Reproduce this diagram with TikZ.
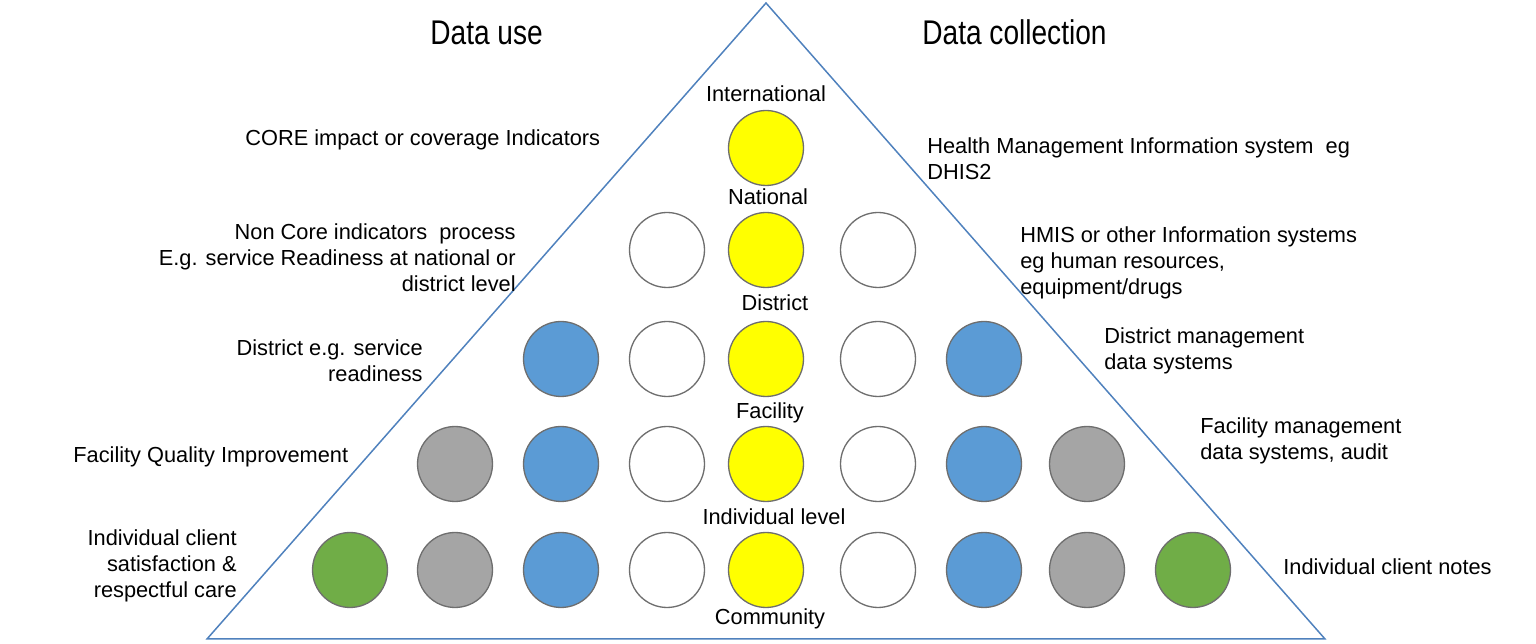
\documentclass[tikz,border=0pt]{standalone}
\usepackage{fontspec}
\setmainfont{Liberation Sans}
\newfontfamily\headfont[FakeStretch=0.82]{Liberation Sans}
\usepackage{xcolor}

\definecolor{triline}{HTML}{4F81BD}
\definecolor{dotline}{HTML}{6E6E6E}
\definecolor{cyellow}{HTML}{FFFF00}
\definecolor{cblue}{HTML}{5B9BD5}
\definecolor{cgray}{HTML}{A5A5A5}
\definecolor{cgreen}{HTML}{70AD47}

\begin{document}
\begin{tikzpicture}[x=0.02cm, y=-0.02cm,
    dot/.style={circle, draw=dotline, line width=0.75pt, minimum size=1.5cm, inner sep=0pt},
    lbl/.style={font=\fontsize{12.4}{15}\selectfont, inner sep=0pt},
    head/.style={font=\headfont\fontsize{19.5}{22}\selectfont, inner sep=0pt, anchor=base west}]
    \useasboundingbox (0,0) rectangle (1536,644);

    % Pyramid
    \draw[triline, line width=0.85pt] (766,3) -- (1325,639) -- (207,639) -- cycle;

    % Headings
    \node[head] (use) at (430,45) {Data use};
    \node[head] (coll) at (922,45) {Data collection};

    % Circles, top to bottom
    \node[dot, fill=cyellow] (r1-0) at (766,148) {};
    \foreach \x/\f/\n in {667/white/1,766/cyellow/2,878/white/3} {
        \node[dot, fill=\f] (r2-\n) at (\x,250) {};
    }
    \foreach \x/\f/\n in {561/cblue/1,667/white/2,766/cyellow/3,878/white/4,984/cblue/5} {
        \node[dot, fill=\f] (r3-\n) at (\x,359) {};
    }
    \foreach \x/\f/\n in {455/cgray/1,561/cblue/2,667/white/3,766/cyellow/4,878/white/5,984/cblue/6,1087/cgray/7} {
        \node[dot, fill=\f] (r4-\n) at (\x,464) {};
    }
    \foreach \x/\f/\n in {350/cgreen/1,455/cgray/2,561/cblue/3,667/white/4,766/cyellow/5,878/white/6,984/cblue/7,1087/cgray/8,1193/cgreen/9} {
        \node[dot, fill=\f] (r5-\n) at (\x,570) {};
    }

    % Levels
    \node[lbl, anchor=base] (lv-int) at (766,102) {International};
    \node[lbl, anchor=base] (lv-nat) at (768,205) {National};
    \node[lbl, anchor=base] (lv-dis) at (775,311) {District};
    \node[lbl, anchor=base] (lv-fac) at (770,419) {Facility};
    \node[lbl, anchor=base] (lv-ind) at (774,525) {Individual level};
    \node[lbl, anchor=base] (lv-com) at (770,625) {Community};

    % Data use (base = last line)
    \node[lbl, anchor=base west] (u-core) at (245,146) {CORE impact or coverage Indicators};
    \node[lbl, anchor=base east, align=right] (u-nonc) at (516,292) {Non Core indicators\ \ process\\E.g. service Readiness at national or\\district level};
    \node[lbl, anchor=base east, align=right] (u-dis) at (423,382) {District e.g. service\\readiness};
    \node[lbl, anchor=base west] (u-fac) at (73,463) {Facility Quality Improvement};
    \node[lbl, anchor=base east, align=right] (u-ind) at (237,598) {Individual client\\satisfaction \&\\respectful care};

    % Data collection
    \node[lbl, anchor=base west, align=left] (c-hmis) at (927,180) {Health Management Information system\ \ eg\\DHIS2};
    \node[lbl, anchor=base west, align=left] (c-oth) at (1020,295) {HMIS or other Information systems\\eg human resources,\\equipment/drugs};
    \node[lbl, anchor=base west, align=left] (c-dis) at (1104,370) {District management\\data systems};
    \node[lbl, anchor=base west, align=left] (c-fac) at (1200,460) {Facility management\\data systems, audit};
    \node[lbl, anchor=base west] (c-ind) at (1283,575) {Individual client notes};
\end{tikzpicture}
\end{document}
